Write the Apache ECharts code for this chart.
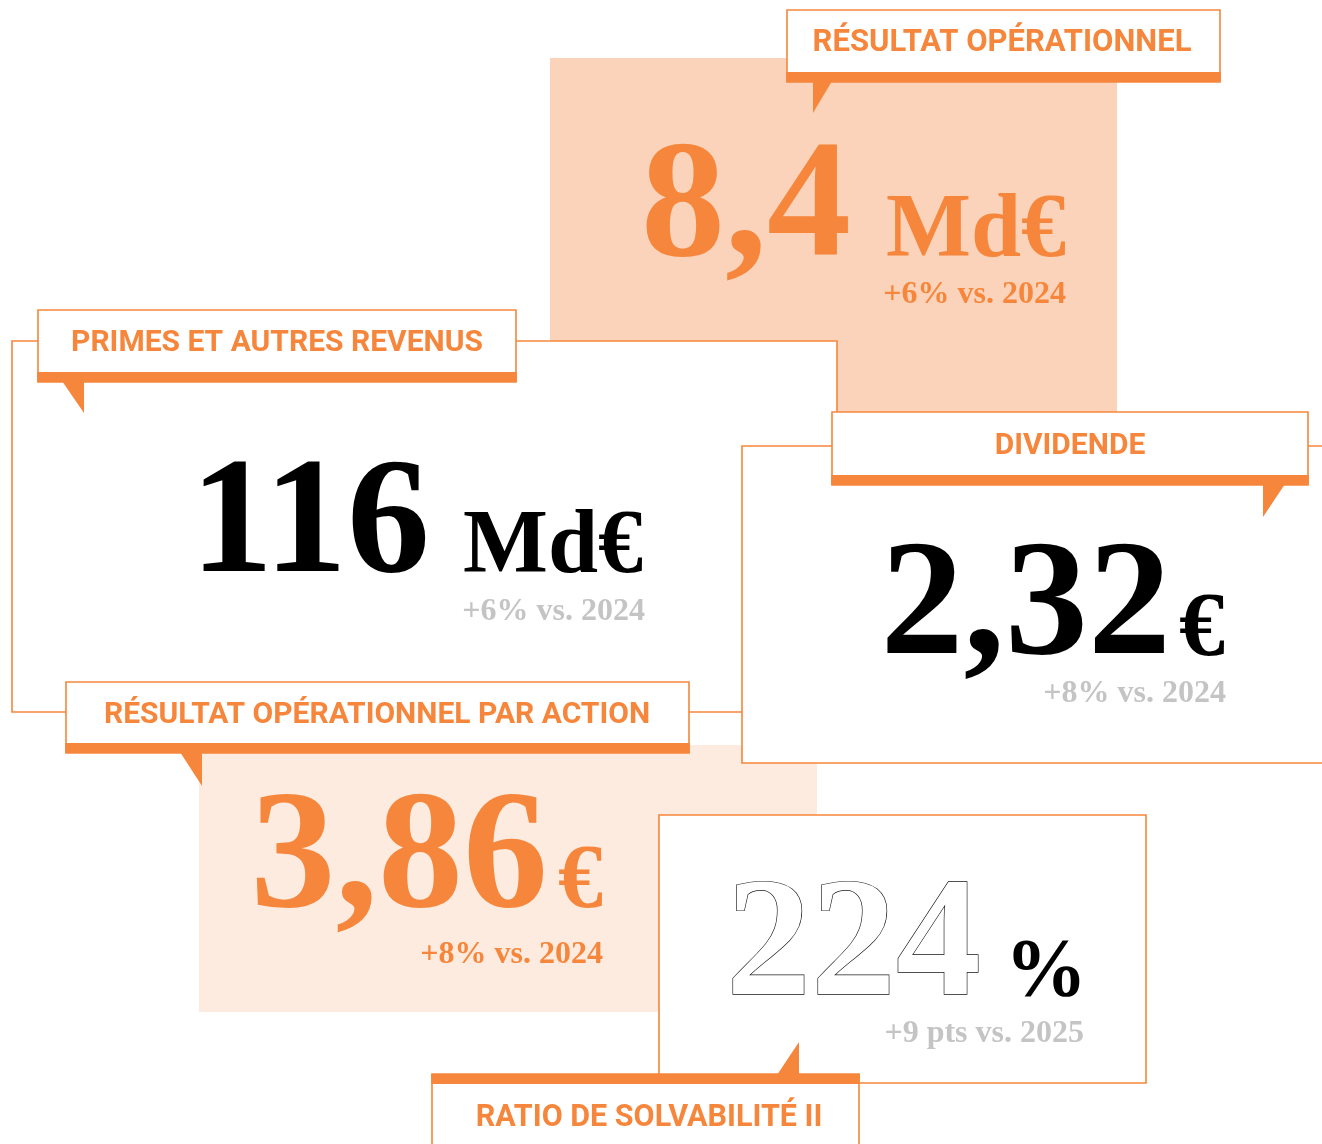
<!DOCTYPE html>
<html>
<head>
<meta charset="utf-8">
<script src="https://cdn.jsdelivr.net/npm/echarts@6/dist/echarts.min.js"></script>
<style>
html,body{margin:0;padding:0;background:#fff;}
#c{width:1322px;height:1144px;}
</style>
</head>
<body>
<div id="c"></div>
<script>
// ---- data ----
const labels = ['RÉSULTAT OPÉRATIONNEL', 'PRIMES ET AUTRES REVENUS', 'DIVIDENDE', 'RÉSULTAT OPÉRATIONNEL PAR ACTION', 'RATIO DE SOLVABILITÉ II'];
const values = ['8,4', '116', '2,32', '3,86', '224'];
const units = ['Md€', 'Md€', '€', '€', '%'];
const changes = ['+6% vs. 2024', '+6% vs. 2024', '+8% vs. 2024', '+8% vs. 2024', '+9 pts vs. 2025'];

// ---- styles ----
const ORANGE = '#F6863B', PEACH = '#FBD3BA', BLUSH = '#FDEBE0', GREY = '#C4C4C4', INK = '#000';
const SERIF = '"Liberation Serif", "Times New Roman", serif';
const SANS = 'Roboto, "Liberation Sans", sans-serif';
const SERIF_SHIFT = 0.068; // glyph centre correction for middle alignment

// ---- layout (per card) ----
const cards = [
  { // résultat opérationnel
    fill: {x: 550, y: 58, w: 567, h: 354, color: PEACH},
    box: {x: 787, y: 10, w: 433, h: 72, band: 'bottom'},
    ptr: [[813, 81], [832, 81], [813, 113]],
    lab: {x: 1002, y: 43, size: 31},
    val: {x: 851, y: 200, size: 168, color: ORANGE},
    unit: {x: 1066, y: 227, size: 90, color: ORANGE},
    chg: {x: 1066, y: 293, size: 32, color: ORANGE}
  },
  { // primes
    frame: {x: 12, y: 341, w: 825, h: 371},
    box: {x: 38, y: 310, w: 478, h: 72, band: 'bottom'},
    ptr: [[62, 381], [84, 381], [84, 413]],
    lab: {x: 277, y: 343, size: 30},
    val: {x: 430, y: 517, size: 166, color: INK},
    unit: {x: 643, y: 543, size: 90, color: INK},
    chg: {x: 645, y: 610, size: 32, color: GREY}
  },
  { // dividende
    frame: {x: 742, y: 446, w: 620, h: 317},
    box: {x: 832, y: 412, w: 476, h: 73, band: 'bottom'},
    ptr: [[1263, 484], [1285, 484], [1263, 517]],
    lab: {x: 1070, y: 446, size: 30},
    val: {x: 1171, y: 599, size: 166, color: INK},
    unit: {x: 1225, y: 625, size: 92, color: INK},
    chg: {x: 1226, y: 692, size: 32, color: GREY}
  },
  { // ROPA
    fill: {x: 199, y: 745, w: 618, h: 267, color: BLUSH},
    box: {x: 66, y: 682, w: 623, h: 71, band: 'bottom'},
    ptr: [[180, 752], [202, 752], [202, 786]],
    lab: {x: 377, y: 715, size: 30},
    val: {x: 548, y: 851, size: 170, color: ORANGE},
    unit: {x: 603, y: 878, size: 90, color: ORANGE},
    chg: {x: 603, y: 953, size: 32, color: ORANGE}
  },
  { // solvabilité
    frame: {x: 659, y: 815, w: 487, h: 268},
    box: {x: 432, y: 1074, w: 427, h: 90, band: 'top'},
    ptr: [[777, 1075], [799, 1075], [799, 1042]],
    lab: {x: 649, y: 1118, size: 30.5},
    val: {x: 981, y: 939, size: 170, color: '#fff', outline: true},
    unit: {x: 1087, y: 968, size: 82, color: INK},
    chg: {x: 1084, y: 1032, size: 32, color: GREY}
  }
];

function rect(r, fill, stroke, lw) {
  return {type: 'rect', shape: {x: r.x, y: r.y, width: r.w, height: r.h},
    style: {fill: fill, stroke: stroke || null, lineWidth: lw || 0}};
}
function txt(s, p, family, weight, align, shift, extra) {
  return {type: 'text', x: p.x, y: p.y + shift * p.size,
    style: Object.assign({text: s, fontFamily: family, fontWeight: weight, fontSize: p.size,
      fill: p.color, align: align, verticalAlign: 'middle'}, extra || {})};
}
function backLayer(i) {
  const c = cards[i], out = [];
  if (c.fill) out.push(rect(c.fill, c.fill.color));
  if (c.frame) out.push(rect(c.frame, '#fff', ORANGE, 1.6));
  return out;
}
function labelLayer(i) {
  const c = cards[i], b = c.box, out = [];
  out.push(rect(b, '#fff', ORANGE, 1.6));
  const by = b.band === 'bottom' ? b.y + b.h - 10 : b.y;
  out.push(rect({x: b.x - 0.8, y: by, w: b.w + 1.6, h: 10}, ORANGE));
  out.push({type: 'polygon', shape: {points: c.ptr}, style: {fill: ORANGE}});
  out.push(txt(labels[i], {x: c.lab.x, y: c.lab.y, size: c.lab.size, color: ORANGE}, SANS, 'bold', 'center', 0));
  return out;
}
function valueLayer(i) {
  const c = cards[i], out = [];
  const extra = c.val.outline ? {stroke: '#111', lineWidth: 1.3} : {};
  out.push(txt(values[i], c.val, SERIF, 'bold', 'right', SERIF_SHIFT, extra));
  out.push(txt(units[i], c.unit, SERIF, 'bold', 'right', SERIF_SHIFT));
  out.push(txt(changes[i], c.chg, SERIF, 'bold', 'right', SERIF_SHIFT));
  return out;
}

// stacking order, bottom to top
const elements = [].concat(
  backLayer(0),
  backLayer(1), labelLayer(1), valueLayer(1),
  labelLayer(0), valueLayer(0),
  backLayer(3),
  backLayer(2), labelLayer(2), valueLayer(2),
  labelLayer(3), valueLayer(3),
  backLayer(4), valueLayer(4), labelLayer(4)
);
elements.forEach((e, k) => { e.z = 10; e.zlevel = 0; e.z2 = k; });

const chart = echarts.init(document.getElementById('c'), null, {renderer: 'canvas'});
chart.setOption({
  backgroundColor: '#fff',
  animation: false,
  graphic: {elements: elements}
});
</script>
</body>
</html>
